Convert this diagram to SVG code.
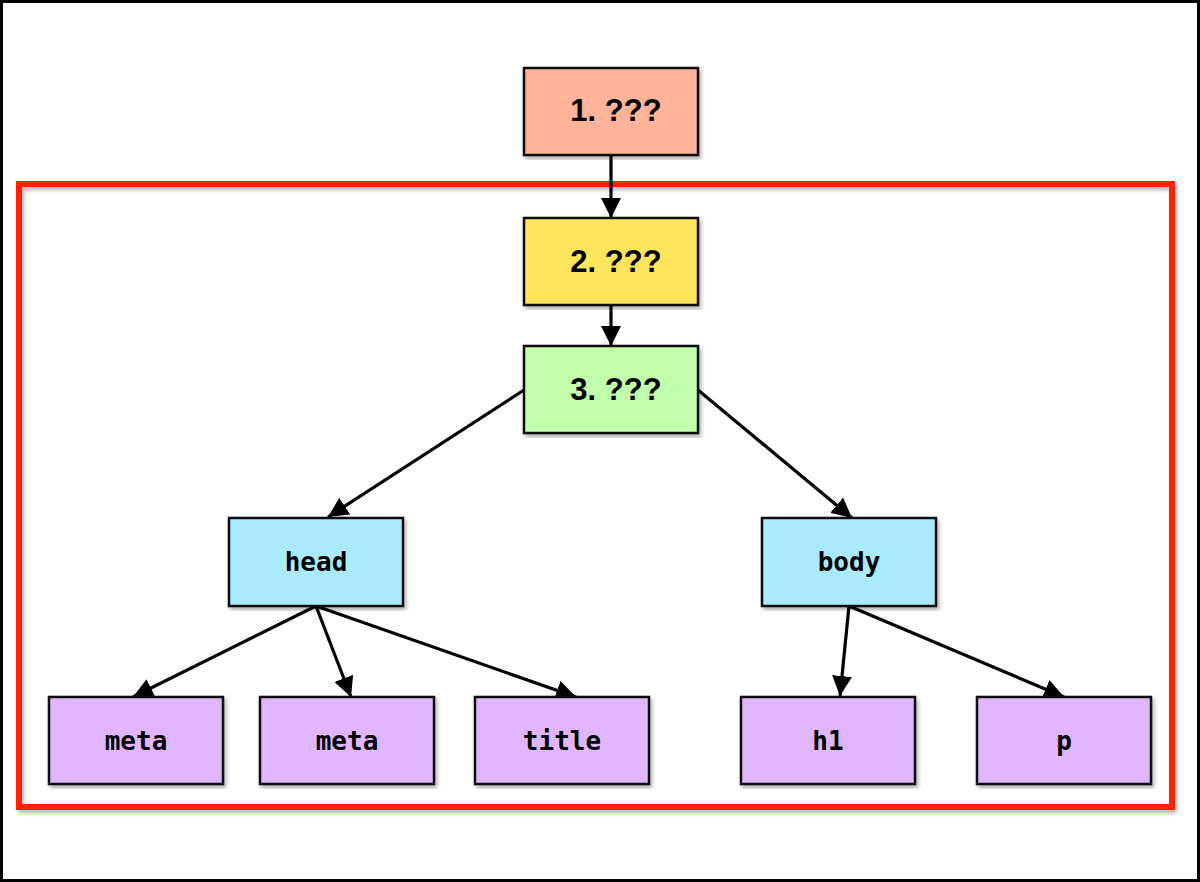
<svg xmlns="http://www.w3.org/2000/svg" width="1200" height="882" viewBox="0 0 1200 882">
<defs>
<marker id="ah" viewBox="0 0 20 20" refX="20" refY="10" markerWidth="20" markerHeight="20" markerUnits="userSpaceOnUse" orient="auto">
<path d="M0,0 L20,10 L0,20 z" fill="#000"/>
</marker>
<filter id="sh" x="-5%" y="-5%" width="110%" height="110%">
<feDropShadow dx="2" dy="3" stdDeviation="2" flood-color="#000" flood-opacity="0.3"/>
</filter>
</defs>
<style>
.n{stroke:#111;stroke-width:2.5;filter:url(#sh)}
.t{font-family:"DejaVu Sans Mono","Liberation Mono",monospace;font-weight:bold;font-size:26px;text-anchor:middle;dominant-baseline:central;fill:#000}
.q{font-family:"Liberation Sans",Arial,sans-serif;font-weight:bold;font-size:31px;text-anchor:middle;dominant-baseline:central;fill:#000}
.e{stroke:#000;stroke-width:3.2;fill:none;marker-end:url(#ah)}
</style>
<rect x="1.5" y="1.5" width="1197" height="879" fill="#fff" stroke="#000" stroke-width="3"/>
<rect id="frame" x="19" y="184" width="1153" height="623" fill="none" stroke="#ff2200" stroke-width="6" filter="url(#sh)"/>
<g id="connectors">
<line class="e" x1="611" y1="155" x2="611" y2="218"/>
<line class="e" x1="611" y1="305" x2="611" y2="346"/>
<line class="e" x1="524" y1="390" x2="328" y2="517"/>
<line class="e" x1="698" y1="390" x2="852" y2="518"/>
<line class="e" x1="316" y1="606" x2="133" y2="697"/>
<line class="e" x1="316" y1="606" x2="351" y2="697"/>
<line class="e" x1="316" y1="606" x2="576" y2="697"/>
<line class="e" x1="849" y1="606" x2="840" y2="696"/>
<line class="e" x1="849" y1="606" x2="1064" y2="697"/>
</g>
<g id="n1"><rect class="n" x="524" y="68" width="174" height="87" fill="#ffb399"/><text class="q" x="616" y="110">1. ???</text></g>
<g id="n2"><rect class="n" x="524" y="218" width="174" height="87" fill="#ffe55c"/><text class="q" x="616" y="261">2. ???</text></g>
<g id="n3"><rect class="n" x="524" y="346" width="174" height="87" fill="#c2ffac"/><text class="q" x="616" y="389">3. ???</text></g>
<g id="head"><rect class="n" x="229" y="518" width="174" height="88" fill="#a9eaff"/><text class="t" x="316" y="562">head</text></g>
<g id="body"><rect class="n" x="762" y="518" width="174" height="88" fill="#a9eaff"/><text class="t" x="849" y="562">body</text></g>
<g id="meta1"><rect class="n" x="49" y="697" width="174" height="87" fill="#dfb6ff"/><text class="t" x="136" y="741">meta</text></g>
<g id="meta2"><rect class="n" x="260" y="697" width="174" height="87" fill="#dfb6ff"/><text class="t" x="347" y="741">meta</text></g>
<g id="title"><rect class="n" x="475" y="697" width="174" height="87" fill="#dfb6ff"/><text class="t" x="562" y="741">title</text></g>
<g id="h1"><rect class="n" x="741" y="697" width="174" height="87" fill="#dfb6ff"/><text class="t" x="828" y="741">h1</text></g>
<g id="p"><rect class="n" x="977" y="697" width="174" height="87" fill="#dfb6ff"/><text class="t" x="1064" y="741">p</text></g>
</svg>
